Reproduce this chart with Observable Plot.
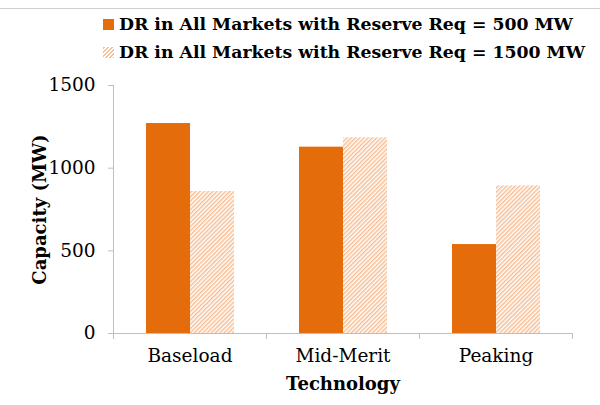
<!DOCTYPE html>
<html><head><meta charset="utf-8">
<script src="https://cdn.jsdelivr.net/npm/d3@7"></script>
<script src="https://cdn.jsdelivr.net/npm/@observablehq/plot@0.6"></script>
<style>
body{margin:0;background:#fff;}
#chart{position:relative;width:600px;height:405px;font-family:"DejaVu Serif",serif;overflow:hidden;background:#fff;}
#topline{position:absolute;left:0;top:8px;width:600px;height:1px;background:#cfcfcf;}
#legend{height:68px;box-sizing:border-box;padding-top:10px;}
.row{display:flex;align-items:center;height:28px;font-weight:bold;font-size:17.3px;color:#000;white-space:nowrap;}
.sw{width:11px;height:11px;margin-left:103px;margin-right:5px;flex:none;}
.solid{background:#E46C0A;}
.hatch{background:repeating-linear-gradient(-45deg,#F7BE94 0 1.4px,#fff 1.4px 2.8px);}
svg{display:block;}
</style></head>
<body>
<div id="chart"><div id="topline"></div><div id="legend"></div></div>
<script>
const technologies = ["Baseload", "Mid-Merit", "Peaking"];
const seriesNames = ["DR in All Markets with Reserve Req = 500 MW", "DR in All Markets with Reserve Req = 1500 MW"];
const values500 = [1270, 1127, 538];
const values1500 = [859, 1184, 893];
const yTicks = [0, 500, 1000, 1500];
const xTitle = "Technology";
const yTitle = "Capacity (MW)";

const solidColor = "#E46C0A";
const hatchColor = "#F7BE94";

const rows500 = technologies.map((t, i) => ({tech: t, value: values500[i]}));
const rows1500 = technologies.map((t, i) => ({tech: t, value: values1500[i]}));

const legend = document.getElementById("legend");
seriesNames.forEach((s, i) => {
  const r = document.createElement("div");
  r.className = "row";
  r.innerHTML = `<span class="sw ${i === 0 ? "solid" : "hatch"}"></span><span>${s}</span>`;
  legend.appendChild(r);
});

const axisLines = (index, scales, values, dims) => {
  const x = scales.x, y = scales.y;
  const bw = x.bandwidth ? x.bandwidth() : (dims.width - dims.marginLeft - dims.marginRight) / technologies.length;
  const edges = technologies.map(t => x(t)).concat([x(technologies[technologies.length - 1]) + bw]);
  const y0 = y(0), yTop = y(yTicks[yTicks.length - 1]);
  const g = d3.create("svg:g").attr("stroke", "#bfbfbf").attr("fill", "none").attr("stroke-width", 1);
  g.append("line").attr("x1", edges[0] + 0.5).attr("x2", edges[0] + 0.5).attr("y1", yTop).attr("y2", y0);
  g.append("line").attr("x1", edges[0]).attr("x2", edges[edges.length - 1]).attr("y1", y0 + 0.5).attr("y2", y0 + 0.5);
  edges.forEach(e => g.append("line").attr("x1", e + 0.5).attr("x2", e + 0.5).attr("y1", y0).attr("y2", y0 + 6));
  return g.node();
};

const svg = Plot.plot({
  width: 600,
  height: 337,
  marginTop: 17,
  marginBottom: 72,
  marginLeft: 113,
  marginRight: 28,
  style: {fontFamily: "'DejaVu Serif', serif", fontSize: "18px", color: "#000", background: "transparent"},
  x: {domain: technologies, padding: 0, axis: null},
  y: {domain: [0, 1500], axis: null},
  marks: [
    Plot.barY(rows500, {x: "tech", y: "value", fill: solidColor, insetLeft: 33, insetRight: 76}),
    Plot.barY(rows1500, {x: "tech", y: "value", fill: "url(#hatch)", insetLeft: 77, insetRight: 32}),
    axisLines,
    Plot.axisY({ticks: yTicks, tickFormat: d3.format("d"), tickSize: 5, tickPadding: 13, stroke: "#bfbfbf", fill: "#000", fontSize: 18.5, label: null}),
    Plot.axisX({tickSize: 0, tickPadding: 15, fill: "#000", fontSize: 18.5, label: null}),
    Plot.text([xTitle], {frameAnchor: "bottom", dy: 51, text: d => d, fontWeight: "bold", fontSize: 18, lineAnchor: "middle", textAnchor: "middle", fill: "#000"}),
    Plot.text([yTitle], {frameAnchor: "left", dx: -73, rotate: -90, text: d => d, fontWeight: "bold", fontSize: 18, lineAnchor: "middle", textAnchor: "middle", fill: "#000"})
  ]
});
svg.insertAdjacentHTML("afterbegin", `<defs><pattern id="hatch" patternUnits="userSpaceOnUse" width="3" height="3" patternTransform="rotate(45)"><rect width="3" height="3" fill="#fff"/><rect width="1.5" height="3" fill="${hatchColor}"/></pattern></defs>`);
document.getElementById("chart").appendChild(svg);
</script>
</body></html>
